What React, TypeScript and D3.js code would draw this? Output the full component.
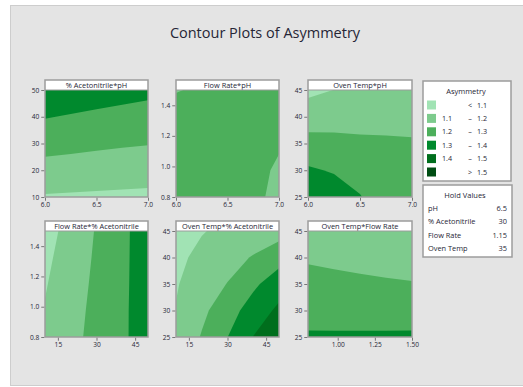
import React, { useEffect, useRef } from 'react'
import * as d3 from 'd3'

// contour bands
const levels = [1.1, 1.2, 1.3, 1.4, 1.5]
const levelColors = ['#a1e3b4', '#7dcb8d', '#4caf5b', '#00892d', '#006e1d', '#004d13']
const legendLow = ['', '1.1', '1.2', '1.3', '1.4', '']
const legendSign = ['<', '–', '–', '–', '–', '>']
const legendHigh = ['1.1', '1.2', '1.3', '1.4', '1.5', '1.5']

const holdNames = ['pH', '% Acetonitrile', 'Flow Rate', 'Oven Temp']
const holdValues = ['6.5', '30', '1.15', '35']

// factor ranges and ticks
const phRange = [6, 7]
const acnRange = [10, 50]
const flowRange = [0.8, 1.5]
const tempRange = [25, 45]
const phTicks = [6.0, 6.5, 7.0]
const acnYTicks = [10, 20, 30, 40, 50]
const acnXTicks = [15, 30, 45]
const flowYTicks = [0.8, 1.0, 1.2, 1.4]
const flowXTicks = [1.0, 1.25, 1.5]
const tempTicks = [25, 30, 35, 40, 45]

// asymmetry on a 5x5 grid (rows: top to bottom, cols: left to right)
const gridAcnPh = [
  [1.374, 1.36, 1.346, 1.334, 1.323],
  [1.305, 1.293, 1.282, 1.272, 1.263],
  [1.235, 1.227, 1.218, 1.21, 1.204],
  [1.164, 1.158, 1.152, 1.146, 1.141],
  [1.092, 1.088, 1.085, 1.082, 1.079],
]
const gridFlowPh = [
  [1.195, 1.213, 1.23, 1.235, 1.235],
  [1.24, 1.245, 1.245, 1.24, 1.235],
  [1.25, 1.25, 1.245, 1.24, 1.21],
  [1.255, 1.25, 1.245, 1.23, 1.185],
  [1.26, 1.255, 1.245, 1.226, 1.17],
]
const gridTempPh = [
  [1.077, 1.101, 1.118, 1.12, 1.12],
  [1.155, 1.163, 1.168, 1.17, 1.168],
  [1.233, 1.226, 1.216, 1.213, 1.21],
  [1.313, 1.291, 1.261, 1.235, 1.23],
  [1.392, 1.356, 1.305, 1.2425, 1.235],
]
const gridFlowAcn = [
  [1.062, 1.135, 1.207, 1.279, 1.35],
  [1.079, 1.146, 1.213, 1.281, 1.348],
  [1.093, 1.156, 1.219, 1.283, 1.346],
  [1.106, 1.165, 1.225, 1.285, 1.345],
  [1.117, 1.173, 1.229, 1.286, 1.343],
]
const gridTempAcn = [
  [1.065, 1.095, 1.12, 1.14, 1.16],
  [1.08, 1.122, 1.163, 1.207, 1.263],
  [1.093, 1.148, 1.203, 1.281, 1.355],
  [1.104, 1.178, 1.258, 1.344, 1.42],
  [1.115, 1.207, 1.299, 1.402, 1.49],
]
const gridTempFlow = [
  [1.151, 1.138, 1.124, 1.112, 1.102],
  [1.19, 1.181, 1.171, 1.162, 1.153],
  [1.23, 1.224, 1.218, 1.212, 1.206],
  [1.27, 1.267, 1.264, 1.262, 1.26],
  [1.31, 1.31, 1.311, 1.312, 1.313],
]

const panels = [
  { title: '% Acetonitrile*pH', grid: gridAcnPh, xr: phRange, yr: acnRange, xt: phTicks, yt: acnYTicks, xf: '.1f', yf: 'd', col: 0, row: 0 },
  { title: 'Flow Rate*pH', grid: gridFlowPh, xr: phRange, yr: flowRange, xt: phTicks, yt: flowYTicks, xf: '.1f', yf: '.1f', col: 1, row: 0 },
  { title: 'Oven Temp*pH', grid: gridTempPh, xr: phRange, yr: tempRange, xt: phTicks, yt: tempTicks, xf: '.1f', yf: 'd', col: 2, row: 0 },
  { title: 'Flow Rate*% Acetonitrile', grid: gridFlowAcn, xr: acnRange, yr: flowRange, xt: acnXTicks, yt: flowYTicks, xf: 'd', yf: '.1f', col: 0, row: 1 },
  { title: 'Oven Temp*% Acetonitrile', grid: gridTempAcn, xr: acnRange, yr: tempRange, xt: acnXTicks, yt: tempTicks, xf: 'd', yf: 'd', col: 1, row: 1 },
  { title: 'Oven Temp*Flow Rate', grid: gridTempFlow, xr: flowRange, yr: tempRange, xt: flowXTicks, yt: tempTicks, xf: '.2f', yf: 'd', col: 2, row: 1 },
]

const cols = [{ x: 45, w: 103 }, { x: 176, w: 103 }, { x: 308, w: 104 }]
const rows = [{ head: 80, top: 90, bottom: 197 }, { head: 221, top: 231, bottom: 337 }]

const font = '"Open Sans", "Noto Sans", sans-serif'
const ink = '#262636'

export default function App() {
  const ref = useRef<SVGSVGElement>(null)

  useEffect(() => {
    const svg = d3.select(ref.current)
    svg.selectAll('*').remove()

    // gray frame
    svg.append('rect').attr('x', 10.5).attr('y', 5.5).attr('width', 513).attr('height', 380)
      .attr('fill', '#e4e4e4').attr('stroke', '#cdcdcd')

    svg.append('text').attr('x', 265).attr('y', 38).attr('text-anchor', 'middle')
      .attr('font-family', font).attr('font-size', 14.5).attr('fill', ink)
      .text('Contour Plots of Asymmetry')

    panels.forEach((p, k) => {
      const c = cols[p.col], r = rows[p.row]
      const n = p.grid.length
      const x = d3.scaleLinear().domain(p.xr).range([c.x, c.x + c.w])
      const y = d3.scaleLinear().domain(p.yr).range([r.bottom, r.top])
      // grid coordinates -> data values (d3.contours puts cell i at i + 0.5)
      const gx = d3.scaleLinear().domain([0.5, n - 0.5]).range(p.xr)
      const gy = d3.scaleLinear().domain([0.5, n - 0.5]).range([p.yr[1], p.yr[0]])
      const path = d3.geoPath(d3.geoTransform({
        point: function (px: number, py: number) { this.stream.point(x(gx(px)), y(gy(py))) }
      }))
      const contours = d3.contours().size([n, n]).thresholds(levels)(p.grid.flat())

      const g = svg.append('g')
      g.append('clipPath').attr('id', 'clip' + k).append('rect')
        .attr('x', c.x).attr('y', r.top).attr('width', c.w).attr('height', r.bottom - r.top)
      const plot = g.append('g').attr('clip-path', `url(#clip${k})`)
      plot.append('rect').attr('x', c.x).attr('y', r.top).attr('width', c.w).attr('height', r.bottom - r.top)
        .attr('fill', levelColors[0])
      plot.selectAll('path').data(contours).join('path')
        .attr('d', d => path(d))
        .attr('fill', (d, i) => levelColors[i + 1])

      // header strip
      g.append('rect').attr('x', c.x).attr('y', r.head).attr('width', c.w).attr('height', r.top - r.head)
        .attr('fill', '#fff')
      g.append('text').attr('x', c.x + c.w / 2).attr('y', r.head + 7.8).attr('text-anchor', 'middle')
        .attr('font-family', font).attr('font-size', 7.4).attr('fill', ink).text(p.title)
      g.append('rect').attr('x', c.x).attr('y', r.head).attr('width', c.w).attr('height', r.bottom - r.head)
        .attr('fill', 'none').attr('stroke', '#9c9c9c').attr('stroke-width', 1.5)
      g.append('line').attr('x1', c.x).attr('x2', c.x + c.w).attr('y1', r.top).attr('y2', r.top)
        .attr('stroke', '#9c9c9c').attr('stroke-width', 1)

      // axes
      const ax = g.append('g').attr('transform', `translate(0,${r.bottom + 0.75})`)
        .call(d3.axisBottom(x).tickValues(p.xt).tickSize(3).tickPadding(2).tickFormat(d3.format(p.xf)))
      const ay = g.append('g').attr('transform', `translate(${c.x - 0.75},0)`)
        .call(d3.axisLeft(y).tickValues(p.yt).tickSize(3).tickPadding(2).tickFormat(d3.format(p.yf)))
      ;[ax, ay].forEach(a => {
        a.select('.domain').remove()
        a.selectAll('line').attr('stroke', '#777')
        a.selectAll('text').attr('font-family', font).attr('font-size', 6.6).attr('fill', ink)
      })
    })

    // legend
    const lg = svg.append('g')
    lg.append('rect').attr('x', 423).attr('y', 81).attr('width', 88).attr('height', 100)
      .attr('fill', '#fff').attr('stroke', '#9c9c9c').attr('stroke-width', 1.5)
    lg.append('text').attr('x', 466).attr('y', 94).attr('text-anchor', 'middle')
      .attr('font-family', font).attr('font-size', 7.5).attr('fill', ink).text('Asymmetry')
    const ly = d3.scaleLinear().domain([0, 5]).range([105, 172])
    levelColors.forEach((col, i) => {
      lg.append('rect').attr('x', 427).attr('y', ly(i) - 4.5).attr('width', 9).attr('height', 9).attr('fill', col)
      lg.append('text').attr('x', 442).attr('y', ly(i) + 2.6).attr('font-family', font).attr('font-size', 7.2)
        .attr('fill', ink).text(legendLow[i])
      lg.append('text').attr('x', 470).attr('y', ly(i) + 2.6).attr('text-anchor', 'middle').attr('font-family', font)
        .attr('font-size', 7.2).attr('fill', ink).text(legendSign[i])
      lg.append('text').attr('x', 477).attr('y', ly(i) + 2.6).attr('font-family', font).attr('font-size', 7.2)
        .attr('fill', ink).text(legendHigh[i])
    })

    // hold values
    const hg = svg.append('g')
    hg.append('rect').attr('x', 423).attr('y', 185).attr('width', 89).attr('height', 72)
      .attr('fill', '#fff').attr('stroke', '#9c9c9c').attr('stroke-width', 1.5)
    hg.append('text').attr('x', 465).attr('y', 198).attr('text-anchor', 'middle')
      .attr('font-family', font).attr('font-size', 7.5).attr('fill', ink).text('Hold Values')
    const hy = d3.scaleLinear().domain([0, 3]).range([211, 251])
    holdNames.forEach((name, i) => {
      hg.append('text').attr('x', 428).attr('y', hy(i)).attr('font-family', font).attr('font-size', 7.4)
        .attr('fill', ink).text(name)
      hg.append('text').attr('x', 507).attr('y', hy(i)).attr('text-anchor', 'end').attr('font-family', font)
        .attr('font-size', 7.4).attr('fill', ink).text(holdValues[i])
    })
  }, [])

  return (
    <svg ref={ref} width={523} height={387} style={{ position: 'absolute', left: 0, top: 0, background: '#fff' }} />
  )
}
